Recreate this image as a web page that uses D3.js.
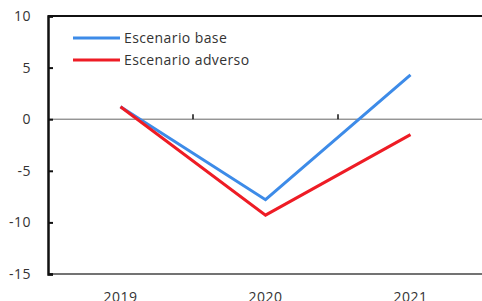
<!DOCTYPE html>
<html lang="es">
<head>
<meta charset="UTF-8">
<title>Escenarios</title>
<script src="https://cdn.jsdelivr.net/npm/d3@7"></script>
<style>
  body { margin: 0; background: #fff; }
  svg text { font-family: "Open Sans", "Noto Sans", sans-serif; fill: #333; }
</style>
</head>
<body>
<svg id="chart" width="482" height="301"></svg>
<script>
    var years = ["2019", "2020", "2021"];
    var base = [1.2, -7.8, 4.3];
    var adverso = [1.2, -9.3, -1.5];
    var yTicks = [10, 5, 0, -5, -10, -15];
    var seriesNames = ["Escenario base", "Escenario adverso"];
    var seriesColors = ["#3d8be8", "#ee1c25"];

    var svg = d3.select("#chart"),
        plotLeft = 48, plotRight = 483, plotTop = 16, plotBottom = 274;

    var x = d3.scalePoint().domain(years).range([plotLeft, plotRight]).padding(0.5);
    var y = d3.scaleLinear().domain([-15, 10]).range([plotBottom, plotTop]);
    var step = x.step();

    // frame: top line and bottom line
    svg.append("line")
        .attr("x1", plotLeft).attr("x2", 482)
        .attr("y1", plotTop).attr("y2", plotTop)
        .attr("stroke", "#111").attr("stroke-width", 2);
    svg.append("line")
        .attr("x1", 482).attr("x2", plotLeft)
        .attr("y1", plotBottom).attr("y2", plotBottom)
        .attr("stroke", "#444").attr("stroke-width", 1.5);

    // zero line with category boundary ticks
    svg.append("line")
        .attr("x1", plotLeft).attr("x2", 482)
        .attr("y1", y(0)).attr("y2", y(0))
        .attr("stroke", "#666").attr("stroke-width", 1);
    years.slice(1).forEach(function (d) {
        var bx = x(d) - step / 2;
        svg.append("line")
            .attr("x1", bx).attr("x2", bx)
            .attr("y1", y(0)).attr("y2", y(0) - 5)
            .attr("stroke", "#111").attr("stroke-width", 1.5);
    });

    // y axis
    var yAxis = svg.append("g")
        .attr("transform", "translate(" + plotLeft + ",0)")
        .call(d3.axisRight(y).tickValues(yTicks).tickSize(5).tickFormat(""));
    yAxis.select(".domain").attr("stroke", "#111").attr("stroke-width", 2.5);
    yAxis.selectAll(".tick line").attr("stroke", "#111").attr("stroke-width", 2);

    svg.selectAll(".ylab")
        .data(yTicks)
        .enter().append("text")
        .attr("class", "ylab")
        .attr("x", 31)
        .attr("y", function (d) { return y(d); })
        .attr("dy", "0.35em")
        .attr("text-anchor", "end")
        .style("font-size", "14px")
        .style("letter-spacing", "0.5px")
        .text(function (d) { return d; });

    svg.selectAll(".xlab")
        .data(years)
        .enter().append("text")
        .attr("class", "xlab")
        .attr("x", function (d) { return x(d); })
        .attr("y", 302)
        .attr("text-anchor", "middle")
        .style("font-size", "14px")
        .style("letter-spacing", "0.5px")
        .text(function (d) { return d; });

    // series
    var line = d3.line()
        .x(function (d, i) { return x(years[i]); })
        .y(function (d) { return y(d); });

    [base, adverso].forEach(function (s, i) {
        svg.append("path")
            .datum(s)
            .attr("d", line)
            .attr("fill", "none")
            .attr("stroke", seriesColors[i])
            .attr("stroke-width", 3);
    });

    // legend
    seriesNames.forEach(function (name, i) {
        var ly = 38 + i * 22;
        svg.append("line")
            .attr("x1", 73).attr("x2", 120)
            .attr("y1", ly).attr("y2", ly)
            .attr("stroke", seriesColors[i]).attr("stroke-width", 3);
        svg.append("text")
            .attr("x", 124).attr("y", ly)
            .attr("dy", "0.35em")
            .style("font-size", "14px")
            .style("letter-spacing", "0.4px")
            .text(name);
    });
</script>
</body>
</html>
